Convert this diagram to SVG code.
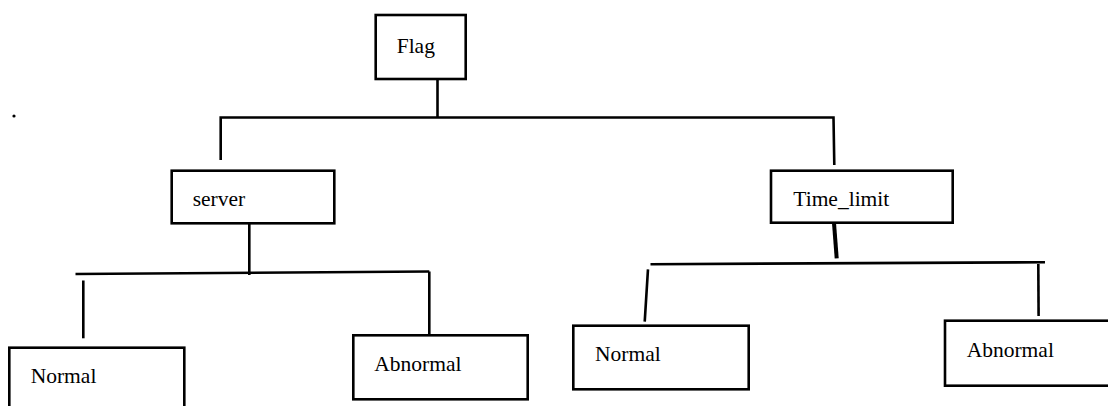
<svg xmlns="http://www.w3.org/2000/svg" width="1108" height="406" viewBox="0 0 1108 406">
<style>
.box{fill:#fff;stroke:#000;stroke-width:2.6}
.lbl{font-family:'Liberation Serif','Times New Roman',serif;font-size:21.5px;fill:#000}
.con line,.con polyline{stroke:#000;stroke-width:2.6;fill:none;stroke-linecap:butt}
</style>
<rect width="1108" height="406" fill="#fff"/>
<circle cx="14" cy="116" r="1.6" fill="#000"/>
<g class="con" id="connectors">
<line x1="437.5" y1="79" x2="437.5" y2="117.5"/>
<polyline points="220.7,160 220.7,117.5 833.5,117.5 834.3,165"/>
<line x1="249.3" y1="223" x2="249.3" y2="275"/>
<line x1="75.5" y1="274" x2="429.3" y2="271.5"/>
<line x1="83.3" y1="280.5" x2="83.3" y2="338.3"/>
<line x1="429.3" y1="271.5" x2="429.3" y2="334"/>
<line x1="834" y1="223" x2="836.7" y2="258.3" style="stroke-width:4"/>
<line x1="650.5" y1="264.2" x2="1045" y2="262.2"/>
<line x1="648" y1="269.3" x2="644.7" y2="321.7"/>
<line x1="1038.3" y1="264" x2="1038.6" y2="316"/>
</g>
<g id="flag"><rect class="box" x="375.7" y="15" width="90" height="64"/><text class="lbl" x="396.7" y="53">Flag</text></g>
<g id="server"><rect class="box" x="171.7" y="170.7" width="162.6" height="52.6"/><text class="lbl" x="192.7" y="206">server</text></g>
<g id="time_limit"><rect class="box" x="771" y="170.7" width="181.7" height="52"/><text class="lbl" x="793.3" y="206">Time_limit</text></g>
<g id="normal_left"><rect class="box" x="9.3" y="347.7" width="175" height="70"/><text class="lbl" x="30.7" y="382.7">Normal</text></g>
<g id="abnormal_left"><rect class="box" x="353.3" y="335.3" width="174.4" height="64"/><text class="lbl" x="374.3" y="371">Abnormal</text></g>
<g id="normal_right"><rect class="box" x="573.3" y="325.7" width="175.4" height="63.6"/><text class="lbl" x="595" y="361">Normal</text></g>
<g id="abnormal_right"><rect class="box" x="945" y="320.7" width="175" height="65"/><text class="lbl" x="966.7" y="356.7">Abnormal</text></g>
</svg>
